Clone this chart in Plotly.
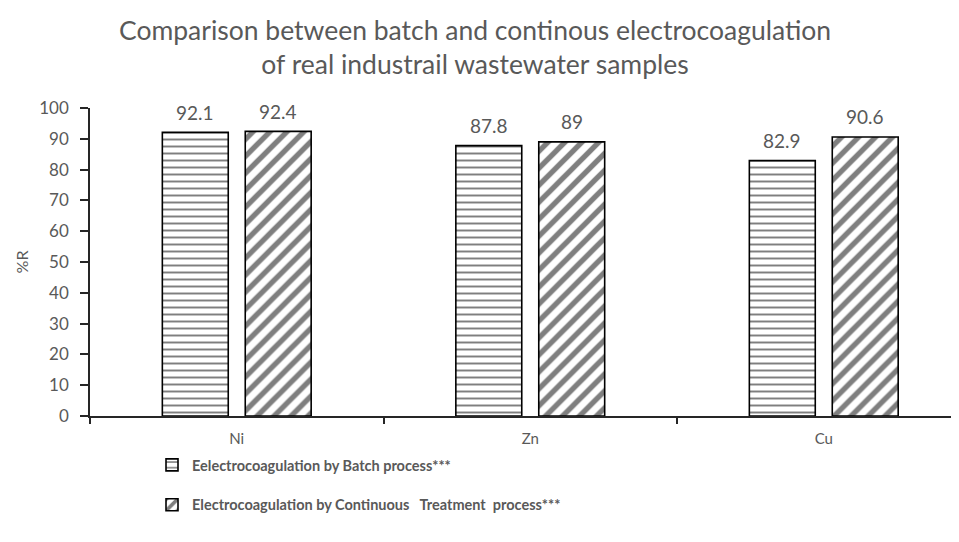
import plotly.graph_objects as go

categories = ["Ni", "Zn", "Cu"]
batch = [92.1, 87.8, 82.9]
continuous = [92.4, 89, 90.6]
batch_labels = ["92.1", "87.8", "82.9"]
cont_labels = ["92.4", "89", "90.6"]
y_ticks = [0, 10, 20, 30, 40, 50, 60, 70, 80, 90, 100]
name_batch = "Eelectrocoagulation by Batch process***"
name_cont = "Electrocoagulation by Continuous\u00a0\u00a0\u00a0Treatment\u00a0\u00a0process***"

FONT = "Lato"
GRAY = "#595959"
BARGAP = 0.435
BARGROUPGAP = 0.205

fig = go.Figure()
fig.add_trace(go.Bar(
    x=categories, y=batch, name=name_batch, legendgroup="a",
    marker=dict(color="white", line=dict(color="black", width=1.6),
                pattern=dict(shape="-", fgcolor="black", bgcolor="white", size=7, solidity=0.28)),
))
fig.add_trace(go.Bar(
    x=categories, y=continuous, name=name_cont, legendgroup="b",
    marker=dict(color="white", line=dict(color="black", width=1.6),
                pattern=dict(shape="/", fgcolor="black", bgcolor="white", size=12, solidity=0.45)),
))

# value labels placed at the bar centres (category index +/- half a bar slot)
slot = (1 - BARGAP) / 2
annotations = []
for series, labels, sign in ((batch, batch_labels, -1), (continuous, cont_labels, 1)):
    for i, (v, lab) in enumerate(zip(series, labels)):
        annotations.append(dict(x=i + sign * slot / 2, y=v, xref="x", yref="y", text=lab,
                                showarrow=False, yanchor="middle", yshift=20,
                                font=dict(size=19, color=GRAY, family=FONT)))

fig.update_layout(
    width=959, height=542,
    paper_bgcolor="white", plot_bgcolor="white",
    margin=dict(l=82, r=0, t=100, b=134, autoexpand=False),
    barmode="group", bargap=BARGAP, bargroupgap=BARGROUPGAP,
    font=dict(family=FONT, color=GRAY),
    title=dict(text="Comparison between batch and continous electrocoagulation<br>of real industrail wastewater samples",
               x=0.487, xanchor="center", y=0.941, yanchor="top",
               font=dict(size=26.5, color=GRAY, family=FONT)),
    annotations=annotations,
    showlegend=True,
    legend=dict(x=0.0707, xanchor="left", y=-0.107, yanchor="top",
                orientation="v", traceorder="grouped", tracegroupgap=18,
                font=dict(size=14.5, color=GRAY, family=FONT, weight="bold")),
    xaxis=dict(type="category", range=[-0.5, 2.488], showline=True, linecolor="#262626", linewidth=1.5,
               ticks="outside", tickson="boundaries", ticklen=6, tickcolor="#262626", tickwidth=1.5,
               ticklabelstandoff=8,
               tickfont=dict(size=15, color=GRAY, family=FONT), showgrid=False, zeroline=False),
    yaxis=dict(range=[0, 100], tickvals=y_ticks, showline=True, linecolor="#262626", linewidth=1.5,
               ticks="outside", ticklen=8, tickcolor="#262626", tickwidth=1.5,
               ticklabelstandoff=8,
               tickfont=dict(size=17, color=GRAY, family=FONT), showgrid=False, zeroline=False,
               title=dict(text="%R", font=dict(size=16, color=GRAY, family=FONT), standoff=7)),
)

fig.write_html("out.html")
